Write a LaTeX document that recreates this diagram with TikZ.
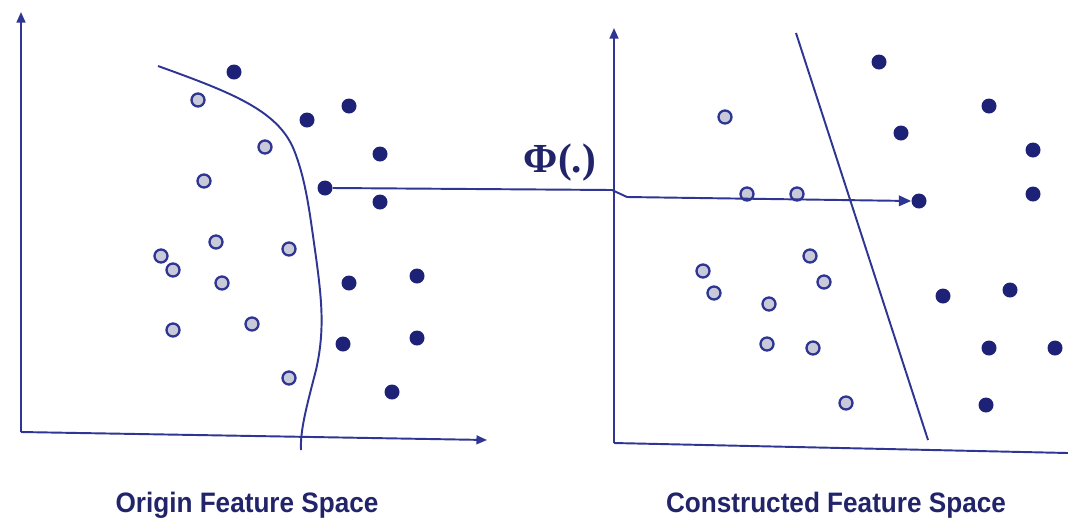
\documentclass[tikz,border=0pt]{standalone}
\usepackage{fontspec}
\setmainfont{Liberation Sans}
\newfontfamily\phifont{Liberation Serif}
\usetikzlibrary{arrows.meta}
\definecolor{navy}{HTML}{1E2277}
\definecolor{linec}{HTML}{2E3592}
\definecolor{lightfill}{HTML}{C9CAD9}
\definecolor{txt}{HTML}{22246A}
\tikzset{
  dark/.style={circle,fill=navy,inner sep=0pt,minimum size=15*0.02cm},
  light/.style={circle,fill=lightfill,draw=linec,line width=1.3pt,inner sep=0pt,minimum size=13*0.02cm},
  axis/.style={draw=linec,line width=1.1pt,-{Triangle[length=6pt,width=5pt]}},
  bound/.style={draw=linec,line width=1.1pt},
  maparrow/.style={draw=linec,line width=1.1pt,-{Triangle[length=7pt,width=6pt]}},
  caption/.style={text=txt,font=\bfseries\fontsize{16}{19}\selectfont,inner sep=0pt,xscale=0.93}
}
\begin{document}
\begin{tikzpicture}[x=0.02cm,y=-0.02cm]
\useasboundingbox (0,0) rectangle (1068,522);
\fill[white] (0,0) rectangle (1068,522);
% left axes
\coordinate (oL) at (21,432);
\coordinate (yL) at (21,12);
\coordinate (xL) at (487,440);
\draw[axis] (oL) -- (yL);
\draw[axis] (oL) -- (xL);
% left boundary
\draw[bound] (158,66) .. controls (230,92) and (278,110) .. (294,150)
  .. controls (306,180) and (310,215) .. (315,250)
  .. controls (322,300) and (325,330) .. (316,370)
  .. controls (307,405) and (300,430) .. (301,450);
% left dark points
\foreach \n/\x/\y in {1/234/72,2/307/120,3/349/106,4/380/154,5/325/188,6/380/202,7/349/283,8/417/276,9/343/344,10/417/338,11/392/392}
  \node[dark] (dL\n) at (\x,\y) {};
% left light points
\foreach \n/\x/\y in {1/198/100,2/265/147,3/204/181,4/216/242,5/289/249,6/161/256,7/173/270,8/222/283,9/173/330,10/252/324,11/289/378}
  \node[light] (lL\n) at (\x,\y) {};
% right axes
\coordinate (oR) at (614,443);
\coordinate (yR) at (614,28);
\coordinate (xR) at (1068,453);
\draw[axis] (oR) -- (yR);
\draw[bound] (oR) -- (xR);
% right separator
\coordinate (s1) at (796,33);
\coordinate (s2) at (928,440);
\draw[bound] (s1) -- (s2);
% right dark points
\foreach \n/\x/\y in {1/879/62,2/989/106,3/901/133,4/1033/150,5/1033/194,6/919/201,7/943/296,8/1010/290,9/989/348,10/1055/348,11/986/405}
  \node[dark] (dR\n) at (\x,\y) {};
% right light points
\foreach \n/\x/\y in {1/725/117,2/747/194,3/797/194,4/810/256,5/703/271,6/824/282,7/714/293,8/769/304,9/767/344,10/813/348,11/846/403}
  \node[light] (lR\n) at (\x,\y) {};
% mapping arrow
\coordinate (m1) at (612,190);
\coordinate (m2) at (627,197);
\draw[maparrow] (dL5.east) -- (m1) -- (m2) -- (dR6.west);
\node[text=txt,font=\phifont\bfseries\fontsize{23.5}{28}\selectfont,inner sep=0pt] (phi) at (560,163) {Φ(.)};
% captions
\node[caption] (capL) at (247,505) {Origin Feature Space};
\node[caption] (capR) at (836,505) {Constructed Feature Space};
\end{tikzpicture}
\end{document}
